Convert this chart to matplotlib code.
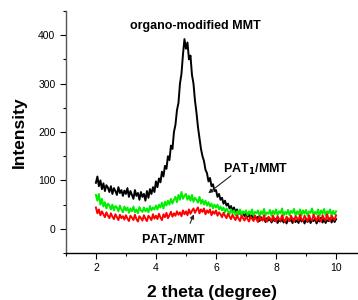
import numpy as np
import matplotlib
matplotlib.use("Agg")
import matplotlib.pyplot as plt
from matplotlib.ticker import MultipleLocator

two_theta = [round(2.0 + 0.05 * i, 2) for i in range(161)]

organo_mmt = [95, 108, 88, 100, 82, 94, 78, 90, 85, 76, 88, 72, 84, 78, 70, 86, 74, 80, 68, 79,
              72, 84, 66, 78, 70, 62, 80, 68, 74, 60, 76, 66, 72, 58, 78, 64, 82, 72, 86, 76,
              98, 86, 104, 96, 118, 108, 130, 124, 150, 142, 172, 165, 200, 215, 245, 260, 300, 320, 360, 392,
              372, 385, 350, 358, 318, 300, 265, 240, 210, 188, 165, 150, 140, 122, 115, 98, 105, 88, 92, 78,
              80, 66, 72, 60, 64, 52, 58, 48, 52, 42, 47, 38, 44, 34, 40, 30, 37, 28, 35, 26,
              33, 24, 30, 22, 28, 19, 27, 20, 25, 16, 24, 18, 23, 14, 22, 17, 21, 13, 20, 16,
              21, 12, 19, 15, 22, 13, 18, 11, 20, 16, 19, 12, 21, 14, 18, 12, 22, 15, 19, 11,
              20, 14, 22, 12, 18, 16, 21, 11, 19, 15, 23, 13, 20, 12, 18, 16, 22, 13, 21, 14,
              20]

pat1_mmt = [70, 58, 72, 50, 62, 46, 55, 42, 52, 48, 40, 50, 38, 47, 44, 36, 48, 40, 34, 46,
            38, 44, 33, 42, 36, 46, 34, 40, 32, 45, 38, 35, 44, 36, 42, 34, 47, 38, 44, 40,
            48, 40, 50, 44, 54, 42, 56, 48, 58, 50, 62, 52, 60, 66, 55, 70, 60, 76, 62, 68,
            72, 60, 68, 58, 70, 56, 64, 60, 54, 66, 52, 60, 50, 58, 48, 55, 46, 52, 42, 50,
            44, 50, 40, 46, 38, 44, 34, 42, 36, 30, 40, 32, 38, 28, 36, 30, 40, 28, 36, 32,
            38, 28, 36, 30, 40, 27, 35, 32, 38, 26, 36, 30, 41, 28, 34, 31, 39, 27, 37, 30,
            40, 28, 36, 32, 42, 27, 35, 30, 39, 28, 37, 33, 41, 27, 36, 30, 40, 28, 38, 31,
            39, 27, 36, 33, 42, 28, 35, 30, 40, 27, 38, 31, 41, 28, 36, 32, 40, 27, 37, 30,
            36]

pat2_mmt = [44, 32, 40, 28, 36, 30, 24, 34, 27, 22, 32, 25, 20, 30, 24, 18, 29, 22, 26, 19,
            28, 21, 16, 27, 23, 18, 29, 20, 15, 26, 22, 17, 28, 21, 16, 27, 23, 18, 30, 21,
            27, 20, 31, 23, 18, 30, 24, 33, 22, 28, 35, 25, 32, 27, 36, 29, 34, 26, 38, 30,
            36, 28, 40, 31, 37, 42, 33, 39, 44, 32, 40, 35, 42, 30, 38, 33, 40, 28, 36, 31,
            38, 27, 34, 30, 24, 33, 27, 22, 31, 25, 20, 29, 23, 18, 28, 21, 16, 27, 22, 17,
            26, 20, 15, 25, 21, 16, 27, 19, 14, 26, 20, 17, 28, 18, 15, 25, 21, 16, 27, 19,
            15, 26, 20, 17, 28, 19, 14, 25, 21, 16, 27, 20, 15, 26, 22, 17, 29, 19, 16, 27,
            21, 15, 28, 20, 17, 29, 22, 16, 27, 19, 15, 28, 21, 17, 30, 20, 16, 27, 22, 18,
            28]

x_ticks = [2, 4, 6, 8, 10]
y_ticks = [0, 100, 200, 300, 400]

plt.rcParams['font.family'] = ['Liberation Sans', 'DejaVu Sans']

fig = plt.figure(figsize=(3.58, 3.0), dpi=100)
ax = fig.add_axes([0.184, 0.1567, 0.816, 0.8066])

ax.plot(two_theta, organo_mmt, color='black', lw=1.4)
ax.plot(two_theta, pat1_mmt, color='#00ee00', lw=1.4)
ax.plot(two_theta, pat2_mmt, color='#ff0000', lw=1.4)

ax.set_xlim(1, 10.73)
ax.set_ylim(-50, 450)
ax.set_xticks(x_ticks)
ax.set_yticks(y_ticks)
ax.xaxis.set_minor_locator(MultipleLocator(1))
ax.yaxis.set_minor_locator(MultipleLocator(50))
ax.tick_params(which='major', direction='out', length=4, width=0.8, labelsize=7.5, colors='black')
ax.tick_params(which='minor', direction='out', length=2.5, width=0.8)

for s in ['top', 'right']:
    ax.spines[s].set_visible(False)
ax.spines['left'].set_color('#555555')
ax.spines['left'].set_linewidth(1.0)
ax.spines['bottom'].set_linewidth(1.0)

ax.set_xlabel('2 theta (degree)', fontsize=12.5, fontweight='bold', labelpad=8)
ax.set_ylabel('Intensity', fontsize=12.5, fontweight='bold', labelpad=8)

ax.text(5.3, 419, 'organo-modified MMT', fontsize=9, fontweight='bold', ha='center', va='center')
ax.text(7.33, 123, 'PAT$_\\mathbf{1}$/MMT', fontsize=9, fontweight='bold', ha='center', va='center')
ax.text(4.6, -25, 'PAT$_\\mathbf{2}$/MMT', fontsize=9, fontweight='bold', ha='center', va='center')

ax.annotate('', xy=(5.67, 70), xytext=(6.57, 113),
            arrowprops=dict(arrowstyle='-|>', color='#222222', lw=0.8, mutation_scale=6))
ax.annotate('', xy=(5.3, 35), xytext=(5.1, 6),
            arrowprops=dict(arrowstyle='-|>', color='#222222', lw=0.8, mutation_scale=6))

fig.savefig('out.png', dpi=100)
